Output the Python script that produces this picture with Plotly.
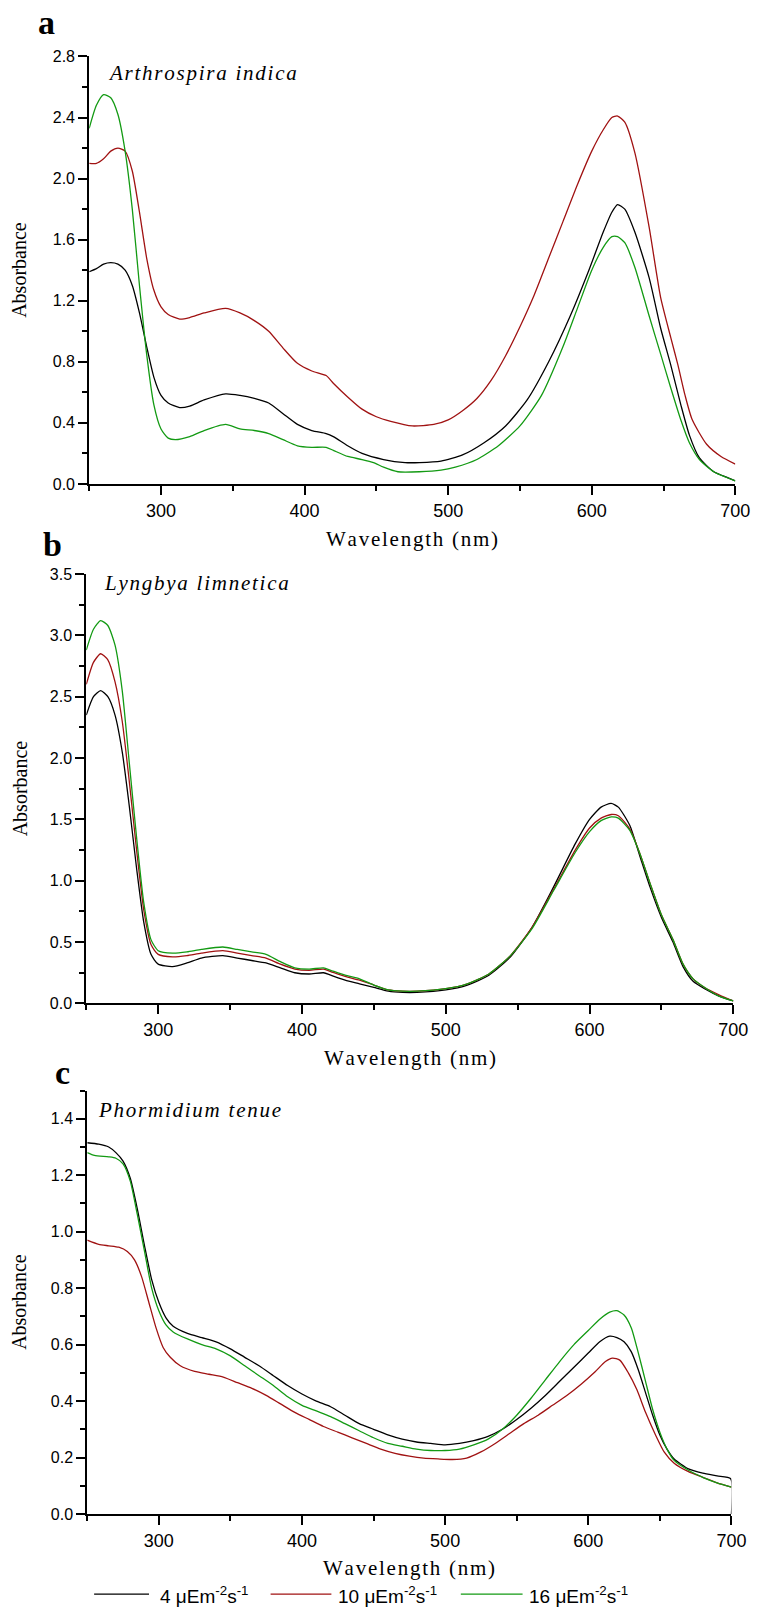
import plotly.graph_objects as go

# ---------------- data ----------------
series_names = ["4 μEm<sup>-2</sup>s<sup>-1</sup>", "10 μEm<sup>-2</sup>s<sup>-1</sup>", "16 μEm<sup>-2</sup>s<sup>-1</sup>"]
species = ["Arthrospira indica", "Lyngbya limnetica", "Phormidium tenue"]
panel_letters = ["a", "b", "c"]

# Panel a : Arthrospira indica
wl_a_4 = [250,255,260,265,270,275,280,285,290,295,300,305,313,320,330,345,355,365,375,385,395,405,415,420,430,440,455,470,480,495,510,525,540,555,570,585,598,608,614,618,623,630,640,648,655,662,668,675,685,695,700]
abs_a_4 = [1.39,1.41,1.44,1.45,1.44,1.40,1.30,1.12,0.90,0.70,0.58,0.53,0.50,0.51,0.55,0.59,0.58,0.56,0.53,0.46,0.39,0.35,0.33,0.31,0.25,0.20,0.16,0.14,0.14,0.15,0.19,0.27,0.38,0.55,0.80,1.10,1.40,1.65,1.78,1.83,1.80,1.65,1.35,1.02,0.78,0.52,0.32,0.17,0.08,0.04,0.02]
wl_a_10 = [250,255,260,265,270,275,280,285,290,295,300,305,313,320,330,345,355,365,375,385,395,405,415,420,430,440,450,460,475,490,500,510,520,530,540,550,560,570,580,590,600,608,614,618,623,630,640,648,655,660,665,670,680,690,700]
abs_a_10 = [2.10,2.10,2.13,2.18,2.20,2.18,2.05,1.78,1.48,1.27,1.16,1.11,1.08,1.09,1.12,1.15,1.12,1.07,1.00,0.89,0.79,0.74,0.71,0.66,0.57,0.49,0.44,0.41,0.38,0.39,0.42,0.48,0.56,0.68,0.84,1.03,1.24,1.48,1.72,1.96,2.18,2.32,2.40,2.41,2.37,2.17,1.68,1.22,0.96,0.78,0.58,0.42,0.26,0.18,0.13]
wl_a_16 = [250,255,260,265,270,275,280,285,290,295,300,305,310,320,330,345,355,365,375,385,395,405,415,420,430,440,448,455,465,480,495,505,520,535,550,565,580,590,600,608,614,618,623,630,640,648,655,662,668,675,685,700]
abs_a_16 = [2.33,2.48,2.55,2.53,2.42,2.18,1.80,1.30,0.85,0.52,0.36,0.30,0.29,0.31,0.35,0.39,0.36,0.35,0.33,0.29,0.25,0.24,0.24,0.22,0.18,0.16,0.14,0.11,0.08,0.08,0.09,0.11,0.16,0.25,0.38,0.58,0.90,1.15,1.40,1.55,1.62,1.62,1.58,1.42,1.10,0.85,0.63,0.42,0.27,0.16,0.08,0.02]

# Panel b : Lyngbya limnetica
wl_b = [250,255,260,265,270,275,280,285,290,295,300,310,320,330,345,355,365,375,385,395,405,415,420,430,440,450,460,470,480,500,515,530,545,560,575,590,600,608,615,620,628,635,642,650,658,665,672,680,690,700]
abs_b_4 = [2.35,2.50,2.55,2.50,2.35,2.05,1.60,1.10,0.66,0.40,0.32,0.30,0.33,0.37,0.39,0.37,0.35,0.33,0.29,0.25,0.24,0.25,0.23,0.19,0.16,0.13,0.10,0.09,0.09,0.11,0.15,0.23,0.38,0.62,0.95,1.30,1.50,1.60,1.63,1.60,1.45,1.20,0.95,0.70,0.50,0.30,0.18,0.12,0.06,0.02]
abs_b_10 = [2.60,2.78,2.85,2.80,2.62,2.30,1.80,1.25,0.76,0.48,0.40,0.38,0.39,0.41,0.43,0.41,0.39,0.37,0.32,0.28,0.27,0.28,0.26,0.22,0.19,0.15,0.11,0.10,0.10,0.12,0.16,0.24,0.39,0.62,0.93,1.25,1.43,1.51,1.54,1.53,1.42,1.22,0.98,0.72,0.52,0.32,0.20,0.13,0.07,0.02]
abs_b_16 = [2.88,3.05,3.12,3.08,2.92,2.55,1.95,1.35,0.82,0.52,0.43,0.41,0.42,0.44,0.46,0.44,0.42,0.40,0.34,0.29,0.28,0.29,0.27,0.23,0.20,0.15,0.11,0.10,0.10,0.12,0.16,0.24,0.39,0.61,0.92,1.23,1.40,1.49,1.52,1.51,1.41,1.22,0.98,0.72,0.52,0.32,0.20,0.13,0.06,0.02]

# Panel c : Phormidium tenue
wl_c_4 = [250,258,265,270,275,280,285,290,295,300,305,310,320,330,340,350,360,370,380,390,400,410,420,430,440,450,460,470,480,490,500,510,520,530,540,550,560,570,580,590,600,608,615,620,625,630,635,640,645,650,655,660,670,680,690,699.5,700]
abs_c_4 = [1.315,1.31,1.30,1.28,1.25,1.19,1.08,0.95,0.83,0.75,0.695,0.665,0.64,0.625,0.61,0.585,0.555,0.525,0.49,0.455,0.425,0.40,0.38,0.35,0.32,0.30,0.28,0.265,0.255,0.25,0.245,0.25,0.26,0.275,0.30,0.335,0.375,0.42,0.47,0.52,0.57,0.61,0.63,0.625,0.61,0.575,0.51,0.43,0.35,0.28,0.23,0.195,0.16,0.145,0.135,0.125,0.0]
wl_c_10 = [250,258,265,272,278,283,288,293,298,303,308,315,325,335,345,355,365,375,385,395,405,415,425,435,445,455,465,475,485,495,505,515,525,535,545,555,565,575,585,595,605,612,617,622,628,634,640,647,653,660,670,680,690,700]
abs_c_10 = [0.97,0.955,0.95,0.945,0.93,0.90,0.84,0.75,0.66,0.59,0.555,0.525,0.505,0.495,0.485,0.465,0.445,0.42,0.39,0.36,0.335,0.31,0.29,0.27,0.25,0.23,0.215,0.205,0.198,0.195,0.193,0.198,0.22,0.25,0.285,0.32,0.35,0.385,0.42,0.46,0.505,0.54,0.552,0.545,0.50,0.44,0.36,0.28,0.22,0.18,0.15,0.13,0.11,0.095]
wl_c_16 = [250,255,265,270,275,280,285,290,295,300,305,310,320,330,340,350,360,370,380,390,400,410,420,430,440,450,460,470,480,490,500,510,520,530,540,550,560,570,580,590,600,608,615,620,625,630,635,640,645,650,655,660,670,680,690,700]
abs_c_16 = [1.28,1.27,1.265,1.26,1.24,1.18,1.06,0.93,0.80,0.72,0.67,0.645,0.62,0.60,0.585,0.56,0.525,0.49,0.455,0.415,0.385,0.365,0.345,0.32,0.295,0.27,0.25,0.24,0.23,0.225,0.225,0.23,0.245,0.265,0.30,0.35,0.41,0.475,0.54,0.60,0.65,0.69,0.715,0.72,0.705,0.66,0.57,0.47,0.37,0.29,0.23,0.19,0.155,0.13,0.11,0.095]

x_ticks = [300, 400, 500, 600, 700]
x_minor = [250, 350, 450, 550, 650]
y_ticks_a = [0.0, 0.4, 0.8, 1.2, 1.6, 2.0, 2.4, 2.8]
y_minor_a = [0.2, 0.6, 1.0, 1.4, 1.8, 2.2, 2.6]
y_ticks_b = [0.0, 0.5, 1.0, 1.5, 2.0, 2.5, 3.0, 3.5]
y_minor_b = [0.25, 0.75, 1.25, 1.75, 2.25, 2.75, 3.25]
y_ticks_c = [0.0, 0.2, 0.4, 0.6, 0.8, 1.0, 1.2, 1.4]
y_minor_c = [0.1, 0.3, 0.5, 0.7, 0.9, 1.1, 1.3, 1.5]

panels = [
    dict(series=[(wl_a_4, abs_a_4), (wl_a_10, abs_a_10), (wl_a_16, abs_a_16)],
         yt=y_ticks_a, ym=y_minor_a, yr=[0, 2.8]),
    dict(series=[(wl_b, abs_b_4), (wl_b, abs_b_10), (wl_b, abs_b_16)],
         yt=y_ticks_b, ym=y_minor_b, yr=[0, 3.5]),
    dict(series=[(wl_c_4, abs_c_4), (wl_c_10, abs_c_10), (wl_c_16, abs_c_16)],
         yt=y_ticks_c, ym=y_minor_c, yr=[0, 1.5]),
]
for p in panels:
    for xs, ys in p["series"]:
        assert len(xs) == len(ys), (len(xs), len(ys))

# ---------------- layout helpers (pixel geometry) ----------------
W, H = 767, 1618
colors = ["#000000", "#A01212", "#139A13"]
# plot boxes in pixels: (x_left, x_right, y_top, y_bottom)
boxes = [(91, 750, 49, 481), (88, 748, 572, 1006), (89, 746, 1094, 1522)]

def fx(px):
    return px / W

def fy(py):
    return 1 - py / H

def spaced(s):
    return "\u200a".join(s)

fig = go.Figure()
layout = dict(width=W, height=H, margin=dict(l=0, r=0, t=0, b=0),
              paper_bgcolor="white", plot_bgcolor="white", showlegend=False)

annotations = []
shapes = []
title_y = [537, 1061, 1577]
letter_pos = [(37, 15), (42, 542), (54, 1076)]
species_pos = [(108, 66), (104, 581), (98, 1114)]

for i, p in enumerate(panels):
    xa = "x" if i == 0 else f"x{i+1}"
    ya = "y" if i == 0 else f"y{i+1}"
    for k, (xs, ys) in enumerate(p["series"]):
        fig.add_trace(go.Scatter(x=xs, y=ys, mode="lines", xaxis=xa, yaxis=ya,
                                 name=series_names[k],
                                 line=dict(color=colors[k], width=1.3, shape="spline", smoothing=0.6),
                                 hoverinfo="skip"))
    xl, xr, yt, yb = boxes[i]
    axis_common = dict(showline=True, linecolor="black", linewidth=2, ticks="outside",
                       ticklen=9, tickwidth=2, tickcolor="black", showgrid=False,
                       zeroline=False, fixedrange=True)
    xkey = "xaxis" if i == 0 else f"xaxis{i+1}"
    ykey = "yaxis" if i == 0 else f"yaxis{i+1}"
    layout[xkey] = dict(axis_common, domain=[fx(xl), fx(xr)], anchor=ya, range=[250, 700],
                        tickmode="array", tickvals=x_ticks, ticktext=[str(v) for v in x_ticks],
                        tickfont=dict(family="Arial", size=18, color="black"),
                        minor=dict(tickmode="array", tickvals=x_minor, ticks="outside",
                                   ticklen=5, tickwidth=2, tickcolor="black", showgrid=False))
    layout[ykey] = dict(axis_common, domain=[fy(yb), fy(yt)], anchor=xa, range=p["yr"],
                        tickmode="array", tickvals=p["yt"], ticktext=[f"{v:.1f}" for v in p["yt"]],
                        tickfont=dict(family="Arial", size=16, color="black"),
                        minor=dict(tickmode="array", tickvals=p["ym"], ticks="outside",
                                   ticklen=5, tickwidth=2, tickcolor="black", showgrid=False))
    # x-axis title
    annotations.append(dict(text=spaced("Wavelength (nm)"), xref="paper", yref="paper",
                            x=fx((xl + xr) / 2), y=fy(title_y[i]), xanchor="center", yanchor="middle",
                            showarrow=False, font=dict(family="Times New Roman", size=21, color="black")))
    # y-axis title
    annotations.append(dict(text="Absorbance", xref="paper", yref="paper", textangle=-90,
                            x=fx(20), y=fy((yt + yb) / 2), xanchor="center", yanchor="middle",
                            showarrow=False, font=dict(family="Times New Roman", size=20, color="black")))
    # panel letter
    lx, ly = letter_pos[i]
    annotations.append(dict(text=f"<b>{panel_letters[i]}</b>", xref="paper", yref="paper",
                            x=fx(lx), y=fy(ly), xanchor="left", yanchor="middle", showarrow=False,
                            font=dict(family="Times New Roman", size=34, color="black")))
    # species name
    sx, sy = species_pos[i]
    annotations.append(dict(text=f"<i>{spaced(species[i])}</i>", xref="paper", yref="paper",
                            x=fx(sx), y=fy(sy), xanchor="left", yanchor="middle", showarrow=False,
                            font=dict(family="Times New Roman", size=21, color="black")))

# legend (manual, at bottom)
leg_y = 1603
leg_lines = [(96, 152), (276, 338), (470, 533)]
leg_text_x = [161, 343, 538]
for k in range(3):
    x0, x1 = leg_lines[k]
    shapes.append(dict(type="line", xref="paper", yref="paper", x0=fx(x0), x1=fx(x1),
                       y0=fy(leg_y), y1=fy(leg_y), line=dict(color=colors[k], width=1.3)))
    annotations.append(dict(text=series_names[k], xref="paper", yref="paper",
                            x=fx(leg_text_x[k]), y=fy(leg_y + 1), xanchor="left", yanchor="middle",
                            showarrow=False, font=dict(family="Arial", size=19, color="black")))

layout["annotations"] = annotations
layout["shapes"] = shapes
fig.update_layout(**layout)
fig.write_html("out.html")
